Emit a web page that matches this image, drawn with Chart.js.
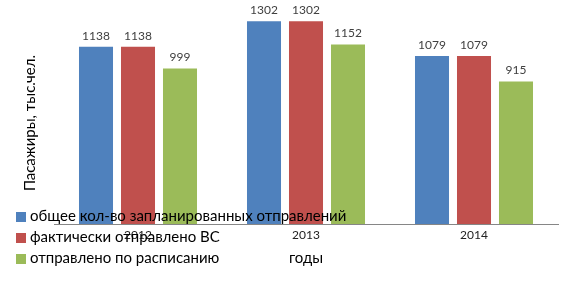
<!DOCTYPE html>
<html>
<head>
<meta charset="utf-8">
<script src="https://cdn.jsdelivr.net/npm/chart.js@4/dist/chart.umd.min.js"></script>
<style>
  body { margin: 0; background: #fff; }
  #caixa { position: relative; width: 569px; height: 288px; }
  #legenda { position: absolute; left: 16px; top: 205px; font: 15px Lato, 'Noto Sans', sans-serif; color: #000; }
  #legenda div { height: 21px; line-height: 21px; white-space: nowrap; }
  #legenda span { display: inline-block; width: 10px; height: 10px; margin-right: 4px; vertical-align: -1px; }
</style>
</head>
<body>
<div id="caixa">
  <canvas id="grafico" width="569" height="288"></canvas>
  <div id="legenda"></div>
</div>
<script>
const anos = ['2012', '2013', '2014'];
const planejados = [1138, 1302, 1079];
const enviadosVC = [1138, 1302, 1079];
const conformeHorario = [999, 1152, 915];
const nomesSeries = [
  'общее кол-во запланированных отправлений',
  'фактически отправлено ВС',
  'отправлено по расписанию'
];
const cores = ['#4F81BD', '#C0504D', '#9BBB59'];
const tituloY = 'Пасажиры, тыс.чел.';
const tituloX = 'годы';

const fonte = 'Lato, "Noto Sans", sans-serif';

// rotulos de valor em cima das barras
const rotulosValores = {
  id: 'rotulosValores',
  afterDatasetsDraw(chart) {
    const ctx = chart.ctx;
    ctx.save();
    ctx.font = '12px ' + fonte;
    ctx.fillStyle = '#404040';
    ctx.textAlign = 'center';
    ctx.textBaseline = 'bottom';
    chart.data.datasets.forEach((ds, i) => {
      chart.getDatasetMeta(i).data.forEach((barra, j) => {
        ctx.fillText(ds.data[j], barra.x, barra.y - 5);
      });
    });
    ctx.restore();
  }
};

// titulo do eixo Y (girado)
const tituloEixoY = {
  id: 'tituloEixoY',
  afterDraw(chart) {
    const ctx = chart.ctx;
    ctx.save();
    ctx.translate(30, 123);
    ctx.rotate(-Math.PI / 2);
    ctx.font = '15px ' + fonte;
    ctx.fillStyle = '#000';
    ctx.textAlign = 'center';
    ctx.textBaseline = 'middle';
    ctx.fillText(tituloY, 0, 0);
    ctx.restore();
  }
};

const series = [planejados, enviadosVC, conformeHorario];

const chart = new Chart(document.getElementById('grafico'), {
  type: 'bar',
  data: {
    labels: anos,
    datasets: series.map((valores, i) => ({
      label: nomesSeries[i],
      data: valores,
      backgroundColor: cores[i],
      categoryPercentage: 0.75,
      barPercentage: 0.81
    }))
  },
  options: {
    responsive: false,
    animation: false,
    layout: { padding: { left: 0, right: 11, top: 6, bottom: 0 } },
    plugins: {
      legend: { display: false },
      tooltip: { enabled: false }
    },
    scales: {
      x: {
        grid: { display: false, drawTicks: false },
        border: { display: true, color: '#868686', width: 1 },
        ticks: { padding: 4, color: '#222', font: { family: fonte, size: 12 } },
        title: {
          display: true,
          text: tituloX,
          color: '#000',
          font: { family: fonte, size: 15 },
          padding: { top: 0, bottom: 21 }
        },
        afterFit: s => { s.height = 64; }
      },
      y: {
        min: 0,
        max: 1400,
        grid: { display: false, drawTicks: false },
        border: { display: false },
        ticks: { display: false },
        afterFit: s => { s.width = 54; }
      }
    }
  },
  plugins: [rotulosValores, tituloEixoY]
});

// legenda em HTML por cima do grafico
const legenda = document.getElementById('legenda');
nomesSeries.forEach((nome, i) => {
  const item = document.createElement('div');
  const marca = document.createElement('span');
  marca.style.background = cores[i];
  item.appendChild(marca);
  item.appendChild(document.createTextNode(nome));
  legenda.appendChild(item);
});
</script>
</body>
</html>
